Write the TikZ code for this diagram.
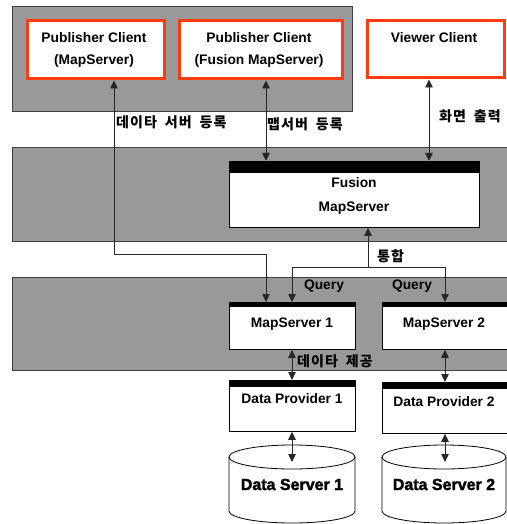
\documentclass[tikz,border=0pt]{standalone}
\usepackage{fontspec}
\setmainfont{Liberation Sans}
\newfontfamily\kr{Noto Sans CJK KR}[LetterSpace=8,WordSpace=1.8]
\newfontfamily\heavy{Liberation Sans}[BoldFeatures={FakeBold=2}]
\usetikzlibrary{arrows.meta}
\definecolor{panelgray}{RGB}{153,153,153}
\definecolor{clientred}{RGB}{255,59,16}
\begin{document}
\begin{tikzpicture}[x=1bp,y=1bp,
  font=\bfseries\fontsize{13.8bp}{17bp}\selectfont,
  panel/.style={draw=black!75, fill=panelgray, line width=0.8bp, anchor=north west, inner sep=0pt},
  client/.style={draw=clientred, fill=white, line width=3bp, anchor=north west, inner sep=0pt},
  srv/.style={draw=black, fill=white, line width=0.8bp, anchor=north west, inner sep=0pt,
    path picture={\fill[black] (path picture bounding box.north west) rectangle ([yshift=-#1]path picture bounding box.north east);}},
  srv/.default=5bp,
  link/.style={line width=0.8bp, draw=black!85},
  tip/.style={-{Triangle[length=8bp,width=7.5bp]}},
  both/.style={{Triangle[length=8bp,width=7.5bp]}-{Triangle[length=8bp,width=7.5bp]}},
  txt/.style={inner sep=0pt, anchor=base},
  krtxt/.style={inner sep=0pt, anchor=base west, font=\kr\bfseries\fontsize{14bp}{16bp}\selectfont},
  bigtxt/.style={inner sep=0pt, anchor=base, font=\heavy\bfseries\fontsize{16bp}{18bp}\selectfont},
  cyl/.style={draw=black, fill=white, line width=0.8bp}
]
\useasboundingbox (0,0) rectangle (507,-524);

% panels
\node[panel, minimum width=340bp, minimum height=105bp] (ptop) at (12,-6) {};
\node[panel, minimum width=497bp, minimum height=94bp] (pmid) at (12,-147) {};
\node[panel, minimum width=497bp, minimum height=93bp] (pbot) at (12,-277) {};

% clients
\node[client, minimum width=137bp, minimum height=58bp] (pc1) at (25.5,-19.5) {};
\node[client, minimum width=163bp, minimum height=58bp] (pc2) at (177.5,-19.5) {};
\node[client, minimum width=137bp, minimum height=57bp] (vc) at (365.5,-19.5) {};
\node[txt] (pc1a) at (94,-42.5) {Publisher Client};
\node[txt] (pc1b) at (94,-65) {(MapServer)};
\node[txt] (pc2a) at (259,-42.5) {Publisher Client};
\node[txt] (pc2b) at (259,-65) {(Fusion MapServer)};
\node[txt] (vca) at (434,-42.5) {Viewer Client};

% servers
\node[srv=12bp, minimum width=250bp, minimum height=66bp] (fus) at (229,-161) {};
\node[txt] (fusa) at (354,-188) {Fusion};
\node[txt] (fusb) at (354,-211.5) {MapServer};

\node[srv=5bp, minimum width=126bp, minimum height=47bp] (ms1) at (229,-302) {};
\node[srv=5bp, minimum width=126bp, minimum height=47bp] (ms2) at (382,-302) {};
\node[txt] (ms1t) at (292,-327) {MapServer 1};
\node[txt] (ms2t) at (444,-327) {MapServer 2};

\node[srv=7bp, minimum width=126bp, minimum height=51bp] (dp1) at (229,-380) {};
\node[srv=7bp, minimum width=126bp, minimum height=51bp] (dp2) at (382,-382) {};
\node[txt] (dp1t) at (292,-403) {Data Provider 1};
\node[txt] (dp2t) at (444,-406) {Data Provider 2};

% data servers (cylinders)
\draw[cyl] (229,-457) -- (229,-511) arc[start angle=180,end angle=360,x radius=63bp,y radius=12bp]
  -- (355,-457) arc[start angle=0,end angle=180,x radius=63bp,y radius=12bp] -- cycle;
\draw[cyl, fill=none] (229,-457) arc[start angle=180,end angle=360,x radius=63bp,y radius=12bp];
\draw[cyl] (382,-457) -- (382,-511) arc[start angle=180,end angle=360,x radius=62bp,y radius=12bp]
  -- (506,-457) arc[start angle=0,end angle=180,x radius=62bp,y radius=12bp] -- cycle;
\draw[cyl, fill=none] (382,-457) arc[start angle=180,end angle=360,x radius=62bp,y radius=12bp];
\node[bigtxt] (ds1) at (292,-490) {Data Server 1};
\node[bigtxt] (ds2) at (444,-490) {Data Server 2};
\coordinate (ds1in) at (292,-462);
\coordinate (ds2in) at (445,-462);

% connector coordinates
\coordinate (a1) at (114,0);
\coordinate (a2) at (266,0);
\coordinate (a3) at (429,0);
\coordinate (bend1) at (114,-254);
\coordinate (bend2) at (266,-254);
\coordinate (qleft) at (292,-267);
\coordinate (qmid) at (368,-267);
\coordinate (qright) at (445,-267);
\coordinate (c1) at (292,0);
\coordinate (c2) at (445,0);

% connectors
\draw[link,both] (pc1.south -| a1) -- (bend1) -- (bend2) -- (ms1.north -| bend2);
\draw[link,both] (pc2.south -| a2) -- (fus.north -| a2);
\draw[link,both] (vc.south -| a3) -- (fus.north -| a3);
\draw[link,tip] (qmid) -- (fus.south -| qmid);
\draw[link,both] (ms1.north -| qleft) -- (qleft) -- (qright) -- (ms2.north -| qright);
\draw[link,both] (ms1.south -| c1) -- (dp1.north -| c1);
\draw[link,both] (ms2.south -| c2) -- (dp2.north -| c2);
\draw[link,both] (dp1.south -| c1) -- (ds1in);
\draw[link,both] (dp2.south -| c2) -- (ds2in);

% labels
\node[krtxt] (l1) at (116,-128) {데이타 서버 등록};
\node[krtxt] (l2) at (267,-130) {맵서버 등록};
\node[krtxt] (l3) at (439,-122) {화면 출력};
\node[krtxt] (l4) at (377,-261) {통합};
\node[krtxt] (l5) at (297,-366) {데이타 제공};
\node[txt] (q1) at (324,-289) {Query};
\node[txt] (q2) at (412,-289) {Query};
\end{tikzpicture}
\end{document}
